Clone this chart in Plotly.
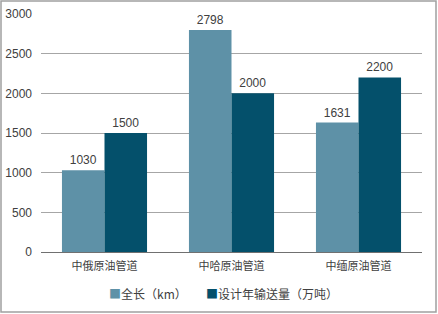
import plotly.graph_objects as go

categories = ["中俄原油管道", "中哈原油管道", "中缅原油管道"]
length_km = [1030, 2798, 1631]
capacity = [1500, 2000, 2200]
series_names = ["全长（km）", "设计年输送量（万吨）"]
colors = ["#5e91a7", "#04506b"]
y_ticks = [0, 500, 1000, 1500, 2000, 2500, 3000]

font_fam = "Liberation Sans, Noto Sans CJK SC, sans-serif"
fig = go.Figure()
for vals, name, col in [(length_km, series_names[0], colors[0]), (capacity, series_names[1], colors[1])]:
    fig.add_trace(go.Bar(x=categories, y=vals, name=name,
                         marker=dict(color=col, line=dict(width=0)),
                         text=[str(v) for v in vals], textposition="outside",
                         textfont=dict(size=12, color="#404040"), cliponaxis=False))

L, R, T, B = 41, 16, 14, 62
W, H = 438, 314
pw, ph = W - L - R, H - T - B

def px_x(p):
    return (p - L) / pw

def px_y(p):
    return (T + ph - p) / ph

legend_x = [107, 204]
annotations = []
for name, col, lx in zip(series_names, colors, legend_x):
    annotations.append(dict(
        xref="paper", yref="paper", x=px_x(lx), y=px_y(293),
        xanchor="left", yanchor="middle", showarrow=False,
        text=f'<span style="color:{col}">■</span>{name}',
        font=dict(size=12, color="#404040", family="Noto Sans CJK SC, sans-serif")))

fig.update_layout(
    width=W, height=H,
    margin=dict(l=L, r=R, t=T, b=B, pad=0),
    paper_bgcolor="white", plot_bgcolor="white",
    font=dict(family=font_fam, size=12, color="#404040"),
    barmode="group", bargap=0.33, bargroupgap=0,
    showlegend=False,
    xaxis=dict(showgrid=False, showline=True, linecolor="#707070", linewidth=1,
               ticks="", automargin=False, ticklabelstandoff=4,
               tickfont=dict(size=11, color="#404040", family="Noto Sans CJK SC, sans-serif")),
    yaxis=dict(range=[0, 3000], tickvals=y_ticks, showgrid=True, gridcolor="#a6a6a6",
               gridwidth=1, zeroline=False, showline=False, ticks="", automargin=False,
               ticklabelstandoff=8, tickfont=dict(size=12, color="#404040")),
    annotations=annotations,
    shapes=[dict(type="rect", xref="paper", yref="paper",
                 x0=px_x(1), x1=px_x(436), y0=px_y(312), y1=px_y(1),
                 line=dict(color="#a0a0a0", width=1.5), fillcolor="rgba(0,0,0,0)", layer="below")],
)
fig.write_html("out.html")
